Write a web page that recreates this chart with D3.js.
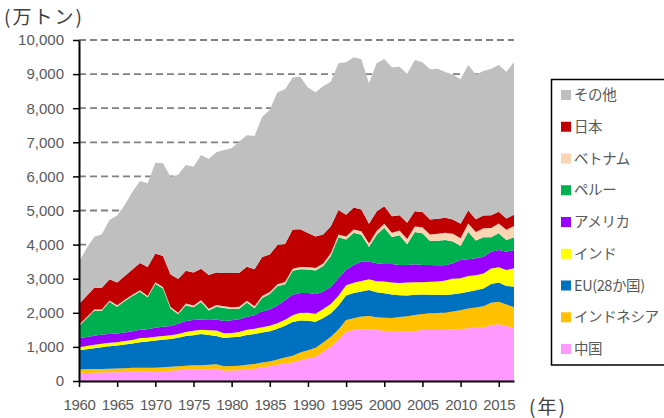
<!DOCTYPE html>
<html>
<head>
<meta charset="utf-8">
<script src="https://cdn.jsdelivr.net/npm/d3@7"></script>
<style>
  body { margin: 0; background: #fff; }
  svg { display: block; }
</style>
</head>
<body>
<svg id="chart" width="664" height="418"></svg>
<script>
const width = 664;
const height = 418;
const svg = d3.select("#chart");

// 1960 - 2017, values in 万トン
const years = d3.range(1960, 2018);
const yTicks = [0, 1000, 2000, 3000, 4000, 5000, 6000, 7000, 8000, 9000, 10000];
const xTicks = [1960, 1965, 1970, 1975, 1980, 1985, 1990, 1995, 2000, 2005, 2010, 2015];

const china = [240,235,245,250,255,255,265,270,280,275, 260,280,300,315,330,335,340,355,360,300, 310,315,340,360,400,430,480,520,540,610, 665,714,860,1007,1202,1447,1496,1515,1515,1496, 1476,1447,1447,1447,1466,1496,1496,1496,1500,1515, 1525,1544,1564,1570,1642,1662,1613,1544];
const indonesia = [100,110,105,105,105,110,110,115,110,115, 125,120,120,120,120,125,125,125,130,130, 130,135,135,140,140,145,150,170,200,225, 240,260,270,290,310,340,345,380,390,370, 380,400,430,450,470,470,490,500,510,520, 550,580,595,625,655,665,630,620];
const eu = [560,585,610,635,660,675,695,715,750,770, 805,810,810,835,870,880,915,870,830,830, 840,850,875,880,880,885,900,930,990,940, 860,760,720,680,700,720,740,730,760,740, 720,690,640,610,590,570,545,530,515,510, 500,495,505,520,545,560,545,600];
const india = [100,100,100,100,100,95,100,100,120,110, 110,110,110,110,120,130,120,140,160,140, 130,140,150,150,155,160,165,175,200,225, 235,240,260,280,290,300,300,310,320,320, 340,350,360,380,370,360,380,390,420,460, 440,460,440,440,460,450,470,540];
const usa = [251,260,270,270,258,255,250,260,240,250, 260,270,273,300,320,320,300,300,320,360, 370,370,380,400,460,480,520,570,600,580, 580,580,510,510,510,450,520,565,515,525, 515,544,525,515,525,506,491,476,447,446, 533,489,493,491,491,505,535,538];
const peru = [362,548,733,703,949,790,926,1033,1120,934, 1290,1120,510,280,460,375,520,280,375,380, 330,310,420,200,400,450,560,470,700,700, 690,690,750,900,1200,890,950,790,430,840, 1060,790,870,610,950,930,700,720,740,640, 410,810,520,570,420,490,340,370];
const vietnam = [35,35,35,35,35,40,40,40,40,40, 45,45,45,45,50,50,50,50,55,55, 55,55,55,60,60,60,60,65,65,65, 70,70,75,80,85,90,95,100,100,110, 120,130,140,150,160,175,195,205,215,225, 230,240,255,265,275,285,300,330];
const japan = [610,620,640,640,620,670,690,740,800,846, 845,911,952,985,960,965,920,990,950,975, 1005,1002,998,1085,1145,1100,1153,1118,1145,1103, 1000,920,850,790,720,640,640,640,580,570, 510,480,450,480,450,450,440,440,440,420, 420,380,370,370,370,350,330,330];
const others = [1242,1397,1495,1562,1739,1960,2085,2279,2405,2457, 2663,2717,2872,3060,3104,3106,3338,3400,3526,3605, 3654,3843,3852,3911,4112,4238,4478,4537,4457,4477, 4270,4236,4356,4241,4299,4468,4406,4408,4119,4345, 4322,4368,4356,4368,4432,4388,4403,4403,4273,4247, 4239,4269,4248,4239,4297,4300,4308,4473];

// bottom to top
const series = [
    { key: "china", name: "中国", color: "#ff99ff", values: china },
    { key: "indonesia", name: "インドネシア", color: "#ffc000", values: indonesia },
    { key: "eu", name: "EU(28か国)", color: "#0070c0", values: eu },
    { key: "india", name: "インド", color: "#ffff00", values: india },
    { key: "usa", name: "アメリカ", color: "#9900ff", values: usa },
    { key: "peru", name: "ペルー", color: "#00b050", values: peru },
    { key: "vietnam", name: "ベトナム", color: "#fcd5b4", values: vietnam },
    { key: "japan", name: "日本", color: "#c00000", values: japan },
    { key: "others", name: "その他", color: "#bfbfbf", values: others }
];

const table = years.map((year, i) => {
    const row = { year: year };
    series.forEach(s => { row[s.key] = s.values[i]; });
    return row;
});

const x = d3.scaleLinear().domain([1960, 2017]).range([79, 514]);
const y = d3.scaleLinear().domain([0, 10000]).range([381, 40]);

const labelFont = "'Liberation Sans', Arial, sans-serif";
const jpFont = "'Noto Sans CJK JP', sans-serif";

// dashed gridlines
svg.append("g")
    .selectAll("line")
    .data(yTicks.filter(d => d > 0))
    .join("line")
    .attr("x1", x(1960))
    .attr("x2", x(2017))
    .attr("y1", d => y(d))
    .attr("y2", d => y(d))
    .attr("stroke", "#808080")
    .attr("stroke-width", 1.8)
    .attr("stroke-dasharray", "7,4");

const stack = d3.stack().keys(series.map(s => s.key));
const layers = stack(table);

const area = d3.area()
    .x(d => x(d.data.year))
    .y0(d => y(d[0]))
    .y1(d => y(d[1]));

svg.append("g")
    .selectAll("path")
    .data(layers)
    .join("path")
    .attr("fill", (d, i) => series[i].color)
    .attr("d", area);

// axes
const yAxis = svg.append("g")
    .attr("transform", `translate(${x(1960)},0)`)
    .call(d3.axisLeft(y)
        .tickValues(yTicks)
        .tickFormat(d3.format(","))
        .tickSize(6)
        .tickSizeOuter(0)
        .tickPadding(9));

const xAxis = svg.append("g")
    .attr("transform", `translate(0,${y(0)})`)
    .call(d3.axisBottom(x)
        .tickValues(xTicks)
        .tickFormat(d3.format("d"))
        .tickSize(6)
        .tickSizeOuter(0)
        .tickPadding(12));

[yAxis, xAxis].forEach(g => {
    g.select(".domain").attr("stroke", "#000").attr("stroke-width", 2);
    g.selectAll(".tick line").attr("stroke", "#000").attr("stroke-width", 1.5);
    g.selectAll(".tick text")
        .attr("fill", "#595959")
        .style("font-family", labelFont)
        .style("font-size", "15px");
});
xAxis.selectAll(".tick text").style("letter-spacing", "-0.4px");

// axis titles
svg.append("text")
    .attr("x", 4)
    .attr("y", 24)
    .attr("fill", "#404040")
    .style("font-family", jpFont)
    .style("font-size", "19px")
    .style("letter-spacing", "2px")
    .text("(万トン)");

svg.append("text")
    .attr("x", 529)
    .attr("y", 414)
    .attr("fill", "#404040")
    .style("font-family", jpFont)
    .style("font-size", "19px")
    .style("letter-spacing", "2px")
    .text("(年)");

// legend
const legend = svg.append("g");
legend.append("rect")
    .attr("x", 551.5)
    .attr("y", 79.5)
    .attr("width", 130)
    .attr("height", 285.5)
    .attr("fill", "#fff")
    .attr("stroke", "#000")
    .attr("stroke-width", 1.5);

const items = legend.selectAll(".item")
    .data(series.slice().reverse())
    .join("g")
    .attr("class", "item")
    .attr("transform", (d, i) => `translate(561,${95 + i * 31.75})`);

items.append("rect")
    .attr("x", 0)
    .attr("y", -5)
    .attr("width", 10)
    .attr("height", 10)
    .attr("fill", d => d.color);

items.append("text")
    .attr("x", 13)
    .attr("dy", "0.35em")
    .attr("fill", "#595959")
    .style("font-family", jpFont)
    .style("font-size", "14.5px")
    .style("letter-spacing", "-0.4px")
    .text(d => d.name);
</script>
</body>
</html>
